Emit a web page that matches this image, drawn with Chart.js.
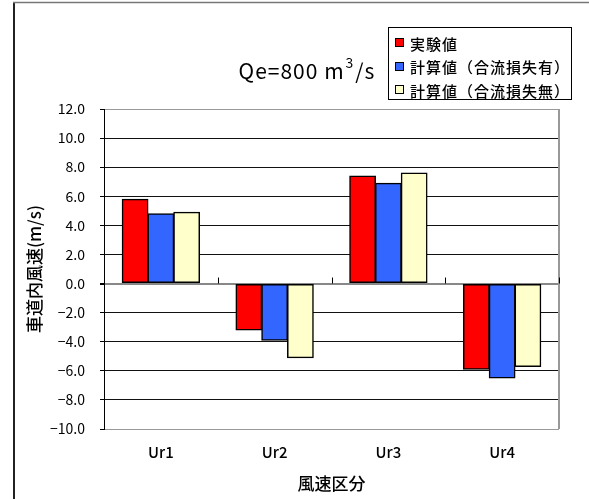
<!DOCTYPE html>
<html>
<head>
<meta charset="utf-8">
<script src="https://cdn.jsdelivr.net/npm/chart.js@4"></script>
<style>
  html, body { margin: 0; padding: 0; background: #fff; }
  #wrap { position: relative; width: 589px; height: 499px; }
</style>
</head>
<body>
<div id="wrap"><canvas id="windChart"></canvas></div>
<script>
// ---- data ----
const categories   = ['Ur1', 'Ur2', 'Ur3', 'Ur4'];
const measured     = [5.8, -3.2, 7.4, -5.9];
const calcWithLoss = [4.8, -3.9, 6.9, -6.5];
const calcNoLoss   = [4.9, -5.1, 7.6, -5.7];
const seriesNames  = ['実験値', '計算値（合流損失有）', '計算値（合流損失無）'];
const yTicks       = { min: -10, max: 12, step: 2 };
const titleParts   = ['Qe=800 m', '3', '/s'];

const FONT = '"Noto Sans CJK JP", "Noto Sans", sans-serif';

// frame, title, legend box and the plot border
const decorPlugin = {
  id: 'decor',
  beforeDraw(chart) {
    const ctx = chart.ctx;
    ctx.save();
    ctx.fillStyle = '#fff';
    ctx.fillRect(0, 0, chart.width, chart.height);
    ctx.strokeStyle = '#222';
    ctx.lineWidth = 2;
    ctx.beginPath();
    ctx.moveTo(14, chart.height);
    ctx.lineTo(14, 2.5);
    ctx.stroke();
    ctx.strokeStyle = '#777';
    ctx.lineWidth = 1.5;
    ctx.beginPath();
    ctx.moveTo(13, 2.5);
    ctx.lineTo(chart.width, 2.5);
    ctx.stroke();
    ctx.restore();
  },
  afterDatasetsDraw(chart) {
    const { ctx, chartArea } = chart;
    const x = chart.scales.x, y = chart.scales.y;
    ctx.save();

    // right edge of the plot area
    ctx.strokeStyle = '#999';
    ctx.lineWidth = 2;
    ctx.beginPath();
    ctx.moveTo(chartArea.right, chartArea.top);
    ctx.lineTo(chartArea.right, chartArea.bottom);
    ctx.stroke();

    // category axis sits on zero: ticks between groups
    const zeroY = y.getPixelForValue(0);
    const half = (x.getPixelForValue(1) - x.getPixelForValue(0)) / 2;
    ctx.strokeStyle = '#000';
    ctx.lineWidth = 1;
    for (let i = 0; i <= categories.length; i++) {
      const px = Math.round(x.getPixelForValue(i) - half) + 0.5;
      ctx.beginPath();
      ctx.moveTo(px, zeroY - 6);
      ctx.lineTo(px, zeroY);
      ctx.stroke();
    }

    // title with superscript
    ctx.fillStyle = '#000';
    ctx.textBaseline = 'alphabetic';
    ctx.letterSpacing = '1px';
    ctx.font = '21px ' + FONT;
    const w0 = ctx.measureText(titleParts[0]).width;
    ctx.font = '14px ' + FONT;
    const w1 = ctx.measureText(titleParts[1]).width;
    ctx.font = '21px ' + FONT;
    const w2 = ctx.measureText(titleParts[2]).width;
    let tx = 306 - (w0 + w1 + w2) / 2;
    const base = 79;
    ctx.fillText(titleParts[0], tx, base);
    tx += w0 + 1;
    ctx.font = '14px ' + FONT;
    ctx.fillText(titleParts[1], tx, base - 11);
    tx += w1 + 1;
    ctx.font = '21px ' + FONT;
    ctx.fillText(titleParts[2], tx, base);

    // legend
    const lx = 388.5, ly = 27.5, lw = 183, lh = 72;
    ctx.fillStyle = '#fff';
    ctx.fillRect(lx, ly, lw, lh);
    ctx.strokeStyle = '#000';
    ctx.lineWidth = 1;
    ctx.strokeRect(lx, ly, lw, lh);
    ctx.font = '500 15px ' + FONT;
    ctx.letterSpacing = '1px';
    ctx.textBaseline = 'middle';
    chart.data.datasets.forEach((ds, i) => {
      const cy = 43 + i * 23.5;
      ctx.fillStyle = ds.backgroundColor;
      ctx.fillRect(395.5, Math.round(cy) - 4.5, 8, 8);
      ctx.strokeStyle = '#000';
      ctx.strokeRect(395.5, Math.round(cy) - 4.5, 8, 8);
      ctx.fillStyle = '#000';
      ctx.fillText(ds.label, 410, cy + 1);
    });
    ctx.letterSpacing = '0px';
    ctx.restore();
  }
};

const gridColor = ctx => {
  const v = ctx.tick ? ctx.tick.value : null;
  if (v === 0) return '#888';
  if (v === yTicks.max || v === yTicks.min) return '#999';
  return '#111';
};

new Chart(document.getElementById('windChart'), {
  type: 'bar',
  data: {
    labels: categories,
    datasets: [
      { label: seriesNames[0], data: measured,     backgroundColor: '#FF0000' },
      { label: seriesNames[1], data: calcWithLoss, backgroundColor: '#3366FF' },
      { label: seriesNames[2], data: calcNoLoss,   backgroundColor: '#FFFFCC' }
    ].map(d => Object.assign(d, { borderColor: '#000', borderWidth: 1.5, borderSkipped: false, inflateAmount: 0.5 }))
  },
  options: {
    responsive: true,
    maintainAspectRatio: false,
    animation: false,
    layout: { padding: { left: 0, top: 109, right: 30, bottom: 0 } },
    datasets: { bar: { barPercentage: 1.0, categoryPercentage: 0.68 } },
    plugins: { legend: { display: false }, tooltip: { enabled: false } },
    scales: {
      x: {
        grid: { display: false, drawTicks: false },
        border: { display: false },
        ticks: { color: '#000', font: { family: FONT, size: 15, weight: 500 }, padding: 14 },
        title: { display: true, text: '風速区分', color: '#000', font: { family: FONT, size: 17, weight: 500 }, padding: { top: 0, bottom: 5 } },
        afterFit: s => { s.height = 70; }
      },
      y: {
        min: yTicks.min,
        max: yTicks.max,
        grid: {
          color: gridColor,
          lineWidth: ctx => (ctx.tick && ctx.tick.value === 0 ? 2 : 1),
          tickLength: 4,
          tickColor: '#000'
        },
        border: { color: '#000', width: 1 },
        ticks: {
          stepSize: yTicks.step,
          color: '#000',
          padding: 15,
          font: { family: FONT, size: 14 },
          callback: v => v.toFixed(1).replace('-', '−')
        },
        title: { display: true, text: '車道内風速(m/s)', color: '#000', font: { family: FONT, size: 17, weight: 500 }, padding: { top: 24, bottom: 0 } },
        afterFit: s => { s.width = 104; }
      }
    }
  },
  plugins: [decorPlugin]
});
</script>
</body>
</html>
